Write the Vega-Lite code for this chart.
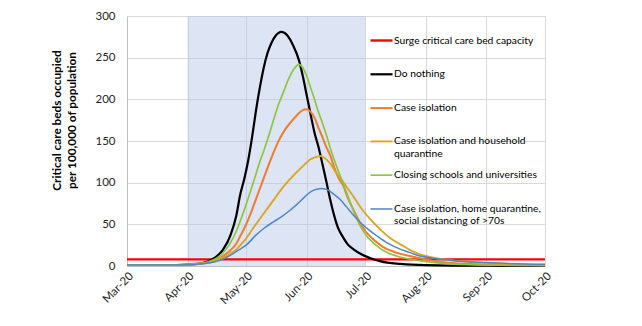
{
  "$schema": "https://vega.github.io/schema/vega-lite/v6.json",
  "width": 418,
  "height": 250,
  "autosize": {"type": "none"},
  "padding": {"left": 127, "top": 16, "right": 97, "bottom": 60},
  "background": "white",
  "config": {
    "view": {"stroke": null},
    "font": "Lato",
    "axis": {
      "grid": true, "gridColor": "#D9D9D9", "gridWidth": 1,
      "domainColor": "#BFBFBF", "domainWidth": 1, "ticks": false,
      "labelColor": "#262626", "labelFont": "Lato", "labelFontSize": 11.5
    },
    "legend": {
      "labelFont": "Lato", "labelFontSize": 10.3, "labelColor": "#000000",
      "labelLimit": 400, "labelOffset": 0, "symbolType": "stroke",
      "symbolSize": 484, "padding": 0, "rowPadding": 3.8, "gridAlign": "all"
    }
  },
  "datasets": {
    "shade": [{"start": "2020-04-01", "end": "2020-07-01"}],
    "series": [
      {"series": "Surge critical care bed capacity", "date": "2020-03-01", "value": 8},
      {"series": "Surge critical care bed capacity", "date": "2020-10-01", "value": 8},

      {"series": "Do nothing", "date": "2020-03-01", "value": 1.2},
      {"series": "Do nothing", "date": "2020-03-26", "value": 1.2},
      {"series": "Do nothing", "date": "2020-04-01", "value": 1.6},
      {"series": "Do nothing", "date": "2020-04-06", "value": 2.5},
      {"series": "Do nothing", "date": "2020-04-11", "value": 5},
      {"series": "Do nothing", "date": "2020-04-15", "value": 10},
      {"series": "Do nothing", "date": "2020-04-19", "value": 19},
      {"series": "Do nothing", "date": "2020-04-23", "value": 37},
      {"series": "Do nothing", "date": "2020-04-26", "value": 61},
      {"series": "Do nothing", "date": "2020-04-28", "value": 86},
      {"series": "Do nothing", "date": "2020-04-30", "value": 104},
      {"series": "Do nothing", "date": "2020-05-02", "value": 126},
      {"series": "Do nothing", "date": "2020-05-04", "value": 154},
      {"series": "Do nothing", "date": "2020-05-06", "value": 186},
      {"series": "Do nothing", "date": "2020-05-08", "value": 214},
      {"series": "Do nothing", "date": "2020-05-10", "value": 238},
      {"series": "Do nothing", "date": "2020-05-12", "value": 256},
      {"series": "Do nothing", "date": "2020-05-14", "value": 268},
      {"series": "Do nothing", "date": "2020-05-16", "value": 276},
      {"series": "Do nothing", "date": "2020-05-19", "value": 281},
      {"series": "Do nothing", "date": "2020-05-22", "value": 277},
      {"series": "Do nothing", "date": "2020-05-25", "value": 265},
      {"series": "Do nothing", "date": "2020-05-28", "value": 247},
      {"series": "Do nothing", "date": "2020-05-30", "value": 228},
      {"series": "Do nothing", "date": "2020-06-01", "value": 205},
      {"series": "Do nothing", "date": "2020-06-03", "value": 182},
      {"series": "Do nothing", "date": "2020-06-05", "value": 160},
      {"series": "Do nothing", "date": "2020-06-07", "value": 143},
      {"series": "Do nothing", "date": "2020-06-09", "value": 123},
      {"series": "Do nothing", "date": "2020-06-11", "value": 102},
      {"series": "Do nothing", "date": "2020-06-13", "value": 80},
      {"series": "Do nothing", "date": "2020-06-15", "value": 61},
      {"series": "Do nothing", "date": "2020-06-17", "value": 46},
      {"series": "Do nothing", "date": "2020-06-19", "value": 37},
      {"series": "Do nothing", "date": "2020-06-22", "value": 26},
      {"series": "Do nothing", "date": "2020-06-25", "value": 20},
      {"series": "Do nothing", "date": "2020-06-29", "value": 14},
      {"series": "Do nothing", "date": "2020-07-03", "value": 10},
      {"series": "Do nothing", "date": "2020-07-09", "value": 5.5},
      {"series": "Do nothing", "date": "2020-07-19", "value": 2.5},
      {"series": "Do nothing", "date": "2020-08-01", "value": 1},
      {"series": "Do nothing", "date": "2020-09-01", "value": 0.3},
      {"series": "Do nothing", "date": "2020-10-01", "value": 0.2},

      {"series": "Case isolation", "date": "2020-03-01", "value": 1.2},
      {"series": "Case isolation", "date": "2020-03-26", "value": 1.2},
      {"series": "Case isolation", "date": "2020-04-01", "value": 1.6},
      {"series": "Case isolation", "date": "2020-04-06", "value": 2.5},
      {"series": "Case isolation", "date": "2020-04-11", "value": 4.2},
      {"series": "Case isolation", "date": "2020-04-15", "value": 7},
      {"series": "Case isolation", "date": "2020-04-18", "value": 10},
      {"series": "Case isolation", "date": "2020-04-21", "value": 15},
      {"series": "Case isolation", "date": "2020-04-23", "value": 19},
      {"series": "Case isolation", "date": "2020-04-26", "value": 27},
      {"series": "Case isolation", "date": "2020-04-28", "value": 36},
      {"series": "Case isolation", "date": "2020-05-01", "value": 50},
      {"series": "Case isolation", "date": "2020-05-03", "value": 61},
      {"series": "Case isolation", "date": "2020-05-06", "value": 80},
      {"series": "Case isolation", "date": "2020-05-09", "value": 99},
      {"series": "Case isolation", "date": "2020-05-12", "value": 118},
      {"series": "Case isolation", "date": "2020-05-15", "value": 136},
      {"series": "Case isolation", "date": "2020-05-18", "value": 152},
      {"series": "Case isolation", "date": "2020-05-21", "value": 164},
      {"series": "Case isolation", "date": "2020-05-24", "value": 173},
      {"series": "Case isolation", "date": "2020-05-27", "value": 181},
      {"series": "Case isolation", "date": "2020-05-30", "value": 187},
      {"series": "Case isolation", "date": "2020-06-01", "value": 188},
      {"series": "Case isolation", "date": "2020-06-03", "value": 185},
      {"series": "Case isolation", "date": "2020-06-05", "value": 178},
      {"series": "Case isolation", "date": "2020-06-07", "value": 166},
      {"series": "Case isolation", "date": "2020-06-09", "value": 155},
      {"series": "Case isolation", "date": "2020-06-11", "value": 143},
      {"series": "Case isolation", "date": "2020-06-13", "value": 133},
      {"series": "Case isolation", "date": "2020-06-15", "value": 119},
      {"series": "Case isolation", "date": "2020-06-17", "value": 107},
      {"series": "Case isolation", "date": "2020-06-20", "value": 95},
      {"series": "Case isolation", "date": "2020-06-22", "value": 82},
      {"series": "Case isolation", "date": "2020-06-25", "value": 67},
      {"series": "Case isolation", "date": "2020-06-28", "value": 53},
      {"series": "Case isolation", "date": "2020-07-01", "value": 42},
      {"series": "Case isolation", "date": "2020-07-05", "value": 32},
      {"series": "Case isolation", "date": "2020-07-10", "value": 23},
      {"series": "Case isolation", "date": "2020-07-17", "value": 16},
      {"series": "Case isolation", "date": "2020-07-24", "value": 12},
      {"series": "Case isolation", "date": "2020-08-03", "value": 7},
      {"series": "Case isolation", "date": "2020-08-13", "value": 4},
      {"series": "Case isolation", "date": "2020-08-28", "value": 2},
      {"series": "Case isolation", "date": "2020-10-01", "value": 0.8},

      {"series": "Case isolation and household quarantine", "date": "2020-03-01", "value": 1.2},
      {"series": "Case isolation and household quarantine", "date": "2020-03-26", "value": 1.2},
      {"series": "Case isolation and household quarantine", "date": "2020-04-01", "value": 1.6},
      {"series": "Case isolation and household quarantine", "date": "2020-04-06", "value": 2.4},
      {"series": "Case isolation and household quarantine", "date": "2020-04-11", "value": 3.8},
      {"series": "Case isolation and household quarantine", "date": "2020-04-15", "value": 6},
      {"series": "Case isolation and household quarantine", "date": "2020-04-18", "value": 9},
      {"series": "Case isolation and household quarantine", "date": "2020-04-21", "value": 12},
      {"series": "Case isolation and household quarantine", "date": "2020-04-23", "value": 15},
      {"series": "Case isolation and household quarantine", "date": "2020-04-26", "value": 20},
      {"series": "Case isolation and household quarantine", "date": "2020-04-28", "value": 25},
      {"series": "Case isolation and household quarantine", "date": "2020-05-01", "value": 33},
      {"series": "Case isolation and household quarantine", "date": "2020-05-03", "value": 40},
      {"series": "Case isolation and household quarantine", "date": "2020-05-06", "value": 50},
      {"series": "Case isolation and household quarantine", "date": "2020-05-10", "value": 63},
      {"series": "Case isolation and household quarantine", "date": "2020-05-15", "value": 79},
      {"series": "Case isolation and household quarantine", "date": "2020-05-19", "value": 92},
      {"series": "Case isolation and household quarantine", "date": "2020-05-23", "value": 103},
      {"series": "Case isolation and household quarantine", "date": "2020-05-27", "value": 113},
      {"series": "Case isolation and household quarantine", "date": "2020-05-31", "value": 122},
      {"series": "Case isolation and household quarantine", "date": "2020-06-03", "value": 128},
      {"series": "Case isolation and household quarantine", "date": "2020-06-06", "value": 131},
      {"series": "Case isolation and household quarantine", "date": "2020-06-08", "value": 132},
      {"series": "Case isolation and household quarantine", "date": "2020-06-10", "value": 130},
      {"series": "Case isolation and household quarantine", "date": "2020-06-13", "value": 123},
      {"series": "Case isolation and household quarantine", "date": "2020-06-16", "value": 112},
      {"series": "Case isolation and household quarantine", "date": "2020-06-19", "value": 103},
      {"series": "Case isolation and household quarantine", "date": "2020-06-22", "value": 93},
      {"series": "Case isolation and household quarantine", "date": "2020-06-25", "value": 83},
      {"series": "Case isolation and household quarantine", "date": "2020-06-30", "value": 66},
      {"series": "Case isolation and household quarantine", "date": "2020-07-04", "value": 55},
      {"series": "Case isolation and household quarantine", "date": "2020-07-09", "value": 43},
      {"series": "Case isolation and household quarantine", "date": "2020-07-14", "value": 33},
      {"series": "Case isolation and household quarantine", "date": "2020-07-19", "value": 26},
      {"series": "Case isolation and household quarantine", "date": "2020-07-24", "value": 19},
      {"series": "Case isolation and household quarantine", "date": "2020-07-29", "value": 14},
      {"series": "Case isolation and household quarantine", "date": "2020-08-03", "value": 11},
      {"series": "Case isolation and household quarantine", "date": "2020-08-13", "value": 7},
      {"series": "Case isolation and household quarantine", "date": "2020-08-23", "value": 5},
      {"series": "Case isolation and household quarantine", "date": "2020-09-07", "value": 3},
      {"series": "Case isolation and household quarantine", "date": "2020-10-01", "value": 1.5},

      {"series": "Closing schools and universities", "date": "2020-03-01", "value": 1.2},
      {"series": "Closing schools and universities", "date": "2020-03-26", "value": 1.2},
      {"series": "Closing schools and universities", "date": "2020-04-01", "value": 1.6},
      {"series": "Closing schools and universities", "date": "2020-04-06", "value": 2.5},
      {"series": "Closing schools and universities", "date": "2020-04-11", "value": 4.5},
      {"series": "Closing schools and universities", "date": "2020-04-15", "value": 8},
      {"series": "Closing schools and universities", "date": "2020-04-18", "value": 13},
      {"series": "Closing schools and universities", "date": "2020-04-20", "value": 18},
      {"series": "Closing schools and universities", "date": "2020-04-23", "value": 28},
      {"series": "Closing schools and universities", "date": "2020-04-26", "value": 42},
      {"series": "Closing schools and universities", "date": "2020-04-28", "value": 54},
      {"series": "Closing schools and universities", "date": "2020-05-01", "value": 74},
      {"series": "Closing schools and universities", "date": "2020-05-03", "value": 88},
      {"series": "Closing schools and universities", "date": "2020-05-06", "value": 110},
      {"series": "Closing schools and universities", "date": "2020-05-08", "value": 125},
      {"series": "Closing schools and universities", "date": "2020-05-10", "value": 138},
      {"series": "Closing schools and universities", "date": "2020-05-12", "value": 152},
      {"series": "Closing schools and universities", "date": "2020-05-15", "value": 175},
      {"series": "Closing schools and universities", "date": "2020-05-17", "value": 190},
      {"series": "Closing schools and universities", "date": "2020-05-20", "value": 208},
      {"series": "Closing schools and universities", "date": "2020-05-23", "value": 226},
      {"series": "Closing schools and universities", "date": "2020-05-26", "value": 238},
      {"series": "Closing schools and universities", "date": "2020-05-28", "value": 242},
      {"series": "Closing schools and universities", "date": "2020-05-30", "value": 238},
      {"series": "Closing schools and universities", "date": "2020-06-01", "value": 228},
      {"series": "Closing schools and universities", "date": "2020-06-03", "value": 214},
      {"series": "Closing schools and universities", "date": "2020-06-05", "value": 200},
      {"series": "Closing schools and universities", "date": "2020-06-07", "value": 185},
      {"series": "Closing schools and universities", "date": "2020-06-09", "value": 172},
      {"series": "Closing schools and universities", "date": "2020-06-11", "value": 158},
      {"series": "Closing schools and universities", "date": "2020-06-13", "value": 142},
      {"series": "Closing schools and universities", "date": "2020-06-15", "value": 128},
      {"series": "Closing schools and universities", "date": "2020-06-17", "value": 115},
      {"series": "Closing schools and universities", "date": "2020-06-20", "value": 97},
      {"series": "Closing schools and universities", "date": "2020-06-23", "value": 78},
      {"series": "Closing schools and universities", "date": "2020-06-25", "value": 66},
      {"series": "Closing schools and universities", "date": "2020-06-28", "value": 50},
      {"series": "Closing schools and universities", "date": "2020-07-02", "value": 35},
      {"series": "Closing schools and universities", "date": "2020-07-06", "value": 26},
      {"series": "Closing schools and universities", "date": "2020-07-10", "value": 19},
      {"series": "Closing schools and universities", "date": "2020-07-17", "value": 12},
      {"series": "Closing schools and universities", "date": "2020-07-27", "value": 7},
      {"series": "Closing schools and universities", "date": "2020-08-08", "value": 3.5},
      {"series": "Closing schools and universities", "date": "2020-08-23", "value": 1.5},
      {"series": "Closing schools and universities", "date": "2020-09-12", "value": 0.8},
      {"series": "Closing schools and universities", "date": "2020-10-01", "value": 0.5},

      {"series": "Case isolation, home quarantine, social distancing of >70s", "date": "2020-03-01", "value": 1.2},
      {"series": "Case isolation, home quarantine, social distancing of >70s", "date": "2020-03-26", "value": 1.2},
      {"series": "Case isolation, home quarantine, social distancing of >70s", "date": "2020-04-01", "value": 1.5},
      {"series": "Case isolation, home quarantine, social distancing of >70s", "date": "2020-04-06", "value": 2.2},
      {"series": "Case isolation, home quarantine, social distancing of >70s", "date": "2020-04-11", "value": 3.3},
      {"series": "Case isolation, home quarantine, social distancing of >70s", "date": "2020-04-15", "value": 5},
      {"series": "Case isolation, home quarantine, social distancing of >70s", "date": "2020-04-19", "value": 8},
      {"series": "Case isolation, home quarantine, social distancing of >70s", "date": "2020-04-23", "value": 13},
      {"series": "Case isolation, home quarantine, social distancing of >70s", "date": "2020-04-27", "value": 19},
      {"series": "Case isolation, home quarantine, social distancing of >70s", "date": "2020-05-01", "value": 25},
      {"series": "Case isolation, home quarantine, social distancing of >70s", "date": "2020-05-06", "value": 37},
      {"series": "Case isolation, home quarantine, social distancing of >70s", "date": "2020-05-10", "value": 45},
      {"series": "Case isolation, home quarantine, social distancing of >70s", "date": "2020-05-15", "value": 53},
      {"series": "Case isolation, home quarantine, social distancing of >70s", "date": "2020-05-19", "value": 59},
      {"series": "Case isolation, home quarantine, social distancing of >70s", "date": "2020-05-23", "value": 66},
      {"series": "Case isolation, home quarantine, social distancing of >70s", "date": "2020-05-27", "value": 74},
      {"series": "Case isolation, home quarantine, social distancing of >70s", "date": "2020-05-31", "value": 83},
      {"series": "Case isolation, home quarantine, social distancing of >70s", "date": "2020-06-03", "value": 89},
      {"series": "Case isolation, home quarantine, social distancing of >70s", "date": "2020-06-06", "value": 92},
      {"series": "Case isolation, home quarantine, social distancing of >70s", "date": "2020-06-09", "value": 93},
      {"series": "Case isolation, home quarantine, social distancing of >70s", "date": "2020-06-12", "value": 91},
      {"series": "Case isolation, home quarantine, social distancing of >70s", "date": "2020-06-15", "value": 86},
      {"series": "Case isolation, home quarantine, social distancing of >70s", "date": "2020-06-18", "value": 80},
      {"series": "Case isolation, home quarantine, social distancing of >70s", "date": "2020-06-21", "value": 72},
      {"series": "Case isolation, home quarantine, social distancing of >70s", "date": "2020-06-25", "value": 61},
      {"series": "Case isolation, home quarantine, social distancing of >70s", "date": "2020-06-29", "value": 51},
      {"series": "Case isolation, home quarantine, social distancing of >70s", "date": "2020-07-03", "value": 43},
      {"series": "Case isolation, home quarantine, social distancing of >70s", "date": "2020-07-07", "value": 36},
      {"series": "Case isolation, home quarantine, social distancing of >70s", "date": "2020-07-12", "value": 28},
      {"series": "Case isolation, home quarantine, social distancing of >70s", "date": "2020-07-17", "value": 22},
      {"series": "Case isolation, home quarantine, social distancing of >70s", "date": "2020-07-24", "value": 16},
      {"series": "Case isolation, home quarantine, social distancing of >70s", "date": "2020-07-29", "value": 12},
      {"series": "Case isolation, home quarantine, social distancing of >70s", "date": "2020-08-03", "value": 10},
      {"series": "Case isolation, home quarantine, social distancing of >70s", "date": "2020-08-13", "value": 7},
      {"series": "Case isolation, home quarantine, social distancing of >70s", "date": "2020-08-23", "value": 5},
      {"series": "Case isolation, home quarantine, social distancing of >70s", "date": "2020-09-07", "value": 3.5},
      {"series": "Case isolation, home quarantine, social distancing of >70s", "date": "2020-10-01", "value": 2}
    ]
  },
  "layer": [
    {
      "data": {"name": "shade"},
      "mark": {"type": "rect", "fill": "#B3C4E5", "opacity": 0.45},
      "encoding": {
        "x": {
          "field": "start", "type": "temporal",
          "scale": {"type": "utc", "nice": false, "domain": [{"year": 2020, "month": 3, "date": 1, "utc": true}, {"year": 2020, "month": 10, "date": 1, "utc": true}]},
          "axis": {
            "title": null, "format": "%b-%y", "labelAngle": -45, "labelPadding": 4,
            "values": [
              {"year": 2020, "month": 3, "date": 1, "utc": true},
              {"year": 2020, "month": 4, "date": 1, "utc": true},
              {"year": 2020, "month": 5, "date": 1, "utc": true},
              {"year": 2020, "month": 6, "date": 1, "utc": true},
              {"year": 2020, "month": 7, "date": 1, "utc": true},
              {"year": 2020, "month": 8, "date": 1, "utc": true},
              {"year": 2020, "month": 9, "date": 1, "utc": true},
              {"year": 2020, "month": 10, "date": 1, "utc": true}
            ]
          }
        },
        "x2": {"field": "end"},
        "y": {
          "datum": 0, "type": "quantitative",
          "scale": {"domain": [0, 300], "nice": false},
          "axis": {
            "title": ["Critical care beds occupied", "per 100,000 of population"],
            "values": [0, 50, 100, 150, 200, 250, 300],
            "labelPadding": 12,
            "titleFont": "Lato", "titleFontSize": 11.8, "titleFontWeight": "bold", "titleColor": "#000000",
            "titleX": -76, "titleY": 104, "titleAlign": "center", "titleBaseline": "top", "titleAngle": -90, "titleLineHeight": 15
          }
        },
        "y2": {"datum": 300}
      }
    },
    {
      "data": {"name": "series"},
      "mark": {"type": "line", "interpolate": "monotone"},
      "encoding": {
        "x": {"field": "date", "type": "temporal"},
        "y": {"field": "value", "type": "quantitative"},
        "color": {
          "field": "series", "type": "nominal",
          "scale": {
            "domain": ["Surge critical care bed capacity", "Do nothing", "Case isolation", "Case isolation and household quarantine", "Closing schools and universities", "Case isolation, home quarantine, social distancing of >70s"],
            "range": ["#FF0000", "#000000", "#ED7D31", "#DAA520", "#8CC63F", "#4F86C6"]
          },
          "legend": {
            "title": null, "orient": "none", "legendX": 242, "legendY": 12,
            "labelExpr": "datum.label == 'Case isolation and household quarantine' ? ['Case isolation and household', 'quarantine'] : datum.label == 'Case isolation, home quarantine, social distancing of >70s' ? ['Case isolation, home quarantine,', 'social distancing of >70s'] : datum.label"
          }
        },
        "strokeWidth": {
          "field": "series", "type": "ordinal",
          "scale": {
            "domain": ["Surge critical care bed capacity", "Do nothing", "Case isolation", "Case isolation and household quarantine", "Closing schools and universities", "Case isolation, home quarantine, social distancing of >70s"],
            "range": [2.4, 1.5, 1.3, 1.3, 1.3, 1.3]
          },
          "legend": {
            "title": null, "orient": "none", "legendX": 242, "legendY": 12,
            "labelExpr": "datum.label == 'Case isolation and household quarantine' ? ['Case isolation and household', 'quarantine'] : datum.label == 'Case isolation, home quarantine, social distancing of >70s' ? ['Case isolation, home quarantine,', 'social distancing of >70s'] : datum.label"
          }
        }
      }
    }
  ]
}
